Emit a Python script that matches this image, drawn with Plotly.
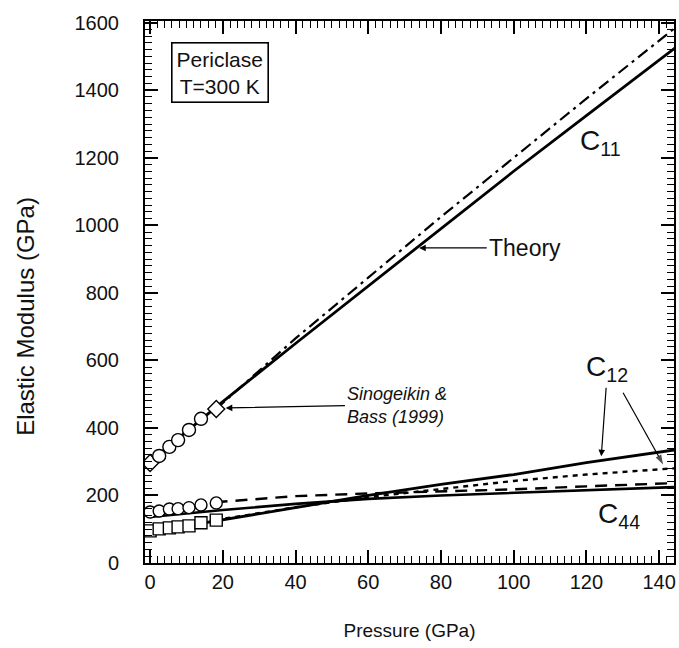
import plotly.graph_objects as go

# Sinogeikin & Bass (1999) measurements, pressure in GPa
p_meas = [0, 2.5, 5.3, 7.7, 10.7, 14.0, 18.2]
c11_meas = [296, 317, 344, 364, 394, 427, 456]
c44_meas = [151, 154, 160, 161, 164, 172, 178]
c12_meas = [95, 101, 104, 107, 110, 119, 127]

# First-principles (theory) curves
p_theory = [0, 20, 40, 60, 80, 100, 120, 145]
c11_theory = [300, 478, 650, 820, 990, 1160, 1325, 1530]
c12_theory = [92, 128, 165, 200, 233, 262, 297, 336]
c44_theory = [136, 157, 175, 190, 200, 208, 216, 225]

# Extrapolations of the measurements to high pressure
p_extrap = [18, 40, 60, 80, 100, 120, 145]
c11_extrap = [455, 665, 845, 1025, 1200, 1375, 1590]
c12_extrap = [127, 165, 195, 220, 243, 262, 281]
c44_extrap = [180, 198, 206, 212, 218, 227, 237]

X_RANGE = [-1.4, 144.1]
Y_RANGE = [0, 1605]

FONT = "Liberation Sans, Arial, Helvetica, sans-serif"
BLACK = "#000000"

fig = go.Figure()

def line(x, y, dash, width=2.6):
    fig.add_trace(go.Scatter(x=x, y=y, mode="lines",
                             line=dict(color=BLACK, width=width, dash=dash),
                             hoverinfo="skip", showlegend=False))

line(p_extrap, c11_extrap, "12px,5px,3px,5px", 2.2)
line(p_extrap, c44_extrap, "12px,8px", 2.4)
line(p_extrap, c12_extrap, "5px,5px", 2.4)
line(p_theory, c11_theory, "solid", 2.8)
line(p_theory, c12_theory, "solid", 2.8)
line(p_theory, c44_theory, "solid", 2.6)

def points(y, symbol, size=12):
    fig.add_trace(go.Scatter(x=p_meas, y=y, mode="markers",
                             marker=dict(symbol=symbol, size=size, color="white",
                                         line=dict(color=BLACK, width=1.4)),
                             hoverinfo="skip", showlegend=False))

points(c11_meas, ["diamond"] + ["circle"] * (len(p_meas) - 2) + ["diamond"], 13)
points(c44_meas, "circle", 12)
points(c12_meas, "square", 12)

# second arrow of the C12 label, drawn as a line with an arrow-shaped end marker
c12_arrow_x = [130.1, 141.1]
c12_arrow_y = [504, 292]
fig.add_trace(go.Scatter(x=c12_arrow_x, y=c12_arrow_y, mode="lines+markers",
                         line=dict(color=BLACK, width=1.2),
                         marker=dict(symbol="arrow", size=[0, 10], angleref="previous",
                                     color=BLACK, line=dict(width=0)),
                         hoverinfo="skip", showlegend=False))

def arrow_label(text, tail, head, **kw):
    return dict(text=text, ax=tail[0], ay=tail[1], x=head[0], y=head[1],
                xref="x", yref="y", axref="x", ayref="y", showarrow=True,
                arrowhead=2, arrowsize=1.1, arrowwidth=1.2, arrowcolor=BLACK, **kw)

annotations = [
    dict(x=19.2, y=1452, text="Periclase<br>T=300 K", showarrow=False,
         font=dict(size=21), bordercolor=BLACK, borderwidth=1.6, borderpad=4,
         bgcolor="white", align="center"),
    dict(x=117.8, y=1244, text="C<sub>11</sub>", showarrow=False,
         xanchor="left", font=dict(size=28)),
    arrow_label("C<sub>12</sub>", (125.8, 575), (124.1, 316), font=dict(size=28)),
    dict(x=122.7, y=140, text="C<sub>44</sub>", showarrow=False,
         xanchor="left", font=dict(size=28)),
    arrow_label("Theory", (92.6, 933), (74.0, 933), font=dict(size=23), xanchor="left"),
    arrow_label("<i>Sinogeikin &amp;<br>Bass (1999)</i>", (53.6, 466), (20.8, 459),
                font=dict(size=18), xanchor="left", align="left"),
    # vertical axis title
    dict(x=-0.225, y=0.456, xref="paper", yref="paper", text="Elastic Modulus (GPa)",
         textangle=-90, showarrow=False, font=dict(size=24),
         xanchor="center", yanchor="middle"),
]

fig.update_layout(
    width=679, height=648,
    margin=dict(l=145, r=3, t=21, b=85),
    paper_bgcolor="white", plot_bgcolor="white",
    font=dict(family=FONT, size=20, color="#111111"),
    annotations=annotations,
)

# Frame with inward ticks on all four sides
axis_common = dict(showline=True, linecolor=BLACK, linewidth=2, mirror="allticks",
                   ticks="inside", tickcolor=BLACK, tickwidth=1.8, ticklen=13,
                   tickmode="linear", tick0=0, showgrid=False, zeroline=False,
                   tickfont=dict(size=20))

fig.update_xaxes(**axis_common, range=X_RANGE, dtick=20,
                 minor=dict(ticks="inside", dtick=2, tick0=0, ticklen=7,
                            tickcolor=BLACK, tickwidth=1.2, showgrid=False),
                 title=dict(text="Pressure (GPa)", font=dict(size=19), standoff=32))
fig.update_yaxes(**axis_common, range=Y_RANGE, dtick=200, ticklabelstandoff=20,
                 minor=dict(ticks="inside", dtick=20, tick0=0, ticklen=7,
                            tickcolor=BLACK, tickwidth=1.2, showgrid=False))

fig.write_html("out.html")
